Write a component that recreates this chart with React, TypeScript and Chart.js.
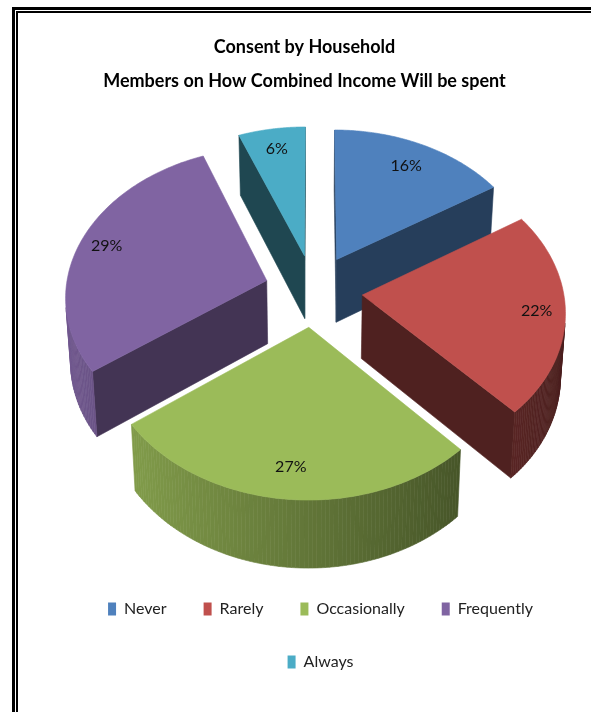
import React, { useEffect, useRef } from "react";
import { Chart, registerables } from "chart.js";

Chart.register(...registerables);

const titleLines = ["Consent by Household", "Members on How Combined Income Will be spent"];
const categories = ["Never", "Rarely", "Occasionally", "Frequently", "Always"];
const shares = [16, 22, 27, 29, 6];
const sliceColors = ["#4f81bd", "#c0504d", "#9bbb59", "#8064a2", "#4bacc6"];
const wallShades = [0.48, 0.41, 0.5, 0.52, 0.41];
const labelReach = [0.8, 0.86, 0.83, 0.86, 0.83];
const paintOrder = [4, 0, 3, 1, 2];

// Oblique view of the flat pie: horizontal/vertical scale, foreshortening, wall height.
const VIEW = { cx: 313.5, cy: 290.5, sx: 201, sy: 148, k: 0.0983, shrink: 0.02, depth: 63.4 };
const PIE_RADIUS = 100;
const EXPLODE = 24.4;
const FONT = "Lato";

type P = [number, number];

function project(u: number, v: number, z: number): P {
  const s = 1 / (1 - VIEW.k * v);
  const f = 1 - VIEW.shrink * z;
  return [VIEW.cx + VIEW.sx * u * s * f, VIEW.cy + VIEW.sy * v * s * f + VIEW.depth * z * s];
}

function shade(hex: string, amount: number): string {
  const n = parseInt(hex.slice(1), 16);
  const c = (x: number) => Math.round(x * amount);
  return `rgb(${c((n >> 16) & 255)},${c((n >> 8) & 255)},${c(n & 255)})`;
}

function area(pts: P[]): number {
  let sum = 0;
  pts.forEach((p, i) => {
    const q = pts[(i + 1) % pts.length];
    sum += p[0] * q[1] - q[0] * p[1];
  });
  return sum;
}

function fillFace(ctx: CanvasRenderingContext2D, pts: P[], color: string) {
  ctx.beginPath();
  pts.forEach((p, i) => (i ? ctx.lineTo(p[0], p[1]) : ctx.moveTo(p[0], p[1])));
  ctx.closePath();
  ctx.fillStyle = color;
  ctx.strokeStyle = color;
  ctx.lineWidth = 0.6;
  ctx.fill();
  ctx.stroke();
}

// Replaces the flat arcs with extruded wedges built from each arc's own angles.
const extrudedPie = {
  id: "extrudedPie",
  afterLayout(chart: any) {
    chart.legend.left += 16;
    chart.legend.right += 16;
  },
  beforeDraw(chart: any) {
    const { ctx } = chart;
    ctx.save();
    ctx.fillStyle = "#000";
    ctx.fillRect(12, 7, 3, 705);
    ctx.fillRect(16, 11, 2, 701);
    ctx.fillRect(12, 7, 579, 3);
    ctx.fillRect(16, 11, 575, 2);
    ctx.restore();
  },
  beforeDatasetDraw(chart: any, args: any) {
    const { ctx } = chart;
    const arcs = args.meta.data;
    for (const i of paintOrder) {
      const arc = arcs[i];
      const color = sliceColors[i];
      const R = arc.outerRadius;
      const a1 = arc.startAngle;
      const a2 = arc.endAngle;
      const mid = (a1 + a2) / 2;
      const e = arc.options.offset / R;
      const ou = Math.cos(mid) * e;
      const ov = Math.sin(mid) * e;
      const rim = (a: number, z: number) => project(ou + Math.cos(a), ov + Math.sin(a), z);
      const apex = (z: number) => project(ou, ov, z);

      const endWall = [rim(a2, 0), apex(0), apex(1), rim(a2, 1)];
      const startWall = [apex(0), rim(a1, 0), rim(a1, 1), apex(1)];
      for (const wall of [startWall, endWall]) {
        if (area(wall) < 0) fillFace(ctx, wall, shade(color, wallShades[i]));
      }

      const steps = 90;
      const top: P[] = [apex(0)];
      for (let s = 0; s <= steps; s++) {
        const a = a1 + ((a2 - a1) * s) / steps;
        top.push(rim(a, 0));
        if (s < steps) {
          const b = a1 + ((a2 - a1) * (s + 1)) / steps;
          const quad = [rim(a, 0), rim(b, 0), rim(b, 1), rim(a, 1)];
          if (area(quad) < 0) {
            fillFace(ctx, quad, shade(color, 0.63 - 0.25 * Math.cos((a + b) / 2)));
          }
        }
      }
      fillFace(ctx, top, color);
    }

    ctx.save();
    ctx.font = `16px ${FONT}`;
    ctx.fillStyle = "#111";
    ctx.textAlign = "center";
    ctx.textBaseline = "middle";
    arcs.forEach((arc: any, i: number) => {
      const mid = (arc.startAngle + arc.endAngle) / 2;
      const r = labelReach[i] + arc.options.offset / arc.outerRadius;
      const p = project(Math.cos(mid) * r, Math.sin(mid) * r, 0);
      ctx.fillText(`${shares[i]}%`, p[0], p[1]);
    });
    ctx.restore();
    return false;
  },
};

export default function App() {
  const ref = useRef<HTMLCanvasElement>(null);
  useEffect(() => {
    const chart = new Chart(ref.current!, {
      type: "pie",
      data: {
        labels: categories,
        datasets: [
          {
            data: shares,
            backgroundColor: sliceColors,
            borderWidth: 0,
            offset: EXPLODE,
            radius: PIE_RADIUS,
          },
        ],
      },
      options: {
        responsive: false,
        animation: false,
        layout: { padding: { left: 18, top: 30, bottom: 32 } },
        plugins: {
          tooltip: { enabled: false },
          title: {
            display: true,
            text: titleLines,
            color: "#000",
            font: { family: FONT, size: 18, weight: "bold", lineHeight: 1.9 },
            padding: 0,
          },
          legend: {
            position: "bottom",
            labels: {
              boxWidth: 8,
              boxHeight: 13,
              padding: 37,
              color: "#222",
              font: { family: FONT, size: 16 },
            },
          },
        },
      },
      plugins: [extrudedPie],
    } as any);
    return () => chart.destroy();
  }, []);
  return (
    <div style={{ position: "fixed", left: 0, top: 0, width: 591, height: 712, background: "#fff" }}>
      <canvas ref={ref} width={591} height={712} style={{ display: "block" }} />
    </div>
  );
}
